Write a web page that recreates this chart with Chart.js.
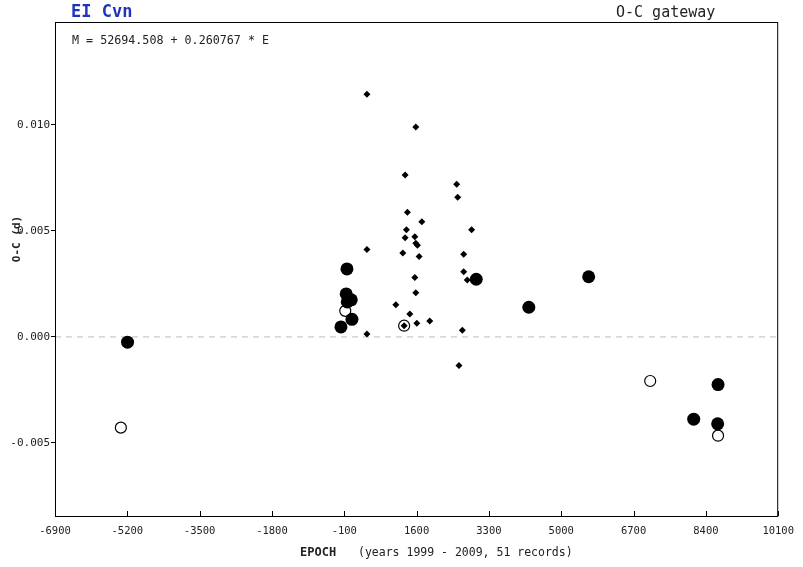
<!DOCTYPE html>
<html>
<head>
<meta charset="utf-8">
<script src="https://cdn.jsdelivr.net/npm/chart.js@4.4.1/dist/chart.umd.min.js"></script>
<style>
    html, body { margin: 0; padding: 0; background: #fff; }
    #wrap { width: 803px; height: 567px; }
</style>
</head>
<body>
<div id="wrap"><canvas id="ocChart" width="803" height="567"></canvas></div>
<script>
// tick labels
const xTicks = [-6900, -5200, -3500, -1800, -100, 1600, 3300, 5000, 6700, 8400, 10100];
const yTicks = [-0.005, 0.000, 0.005, 0.010];

// filled circles
const fullEpoch = [-5195, -178, -55, -30, -37, 64, 80, 3002, 4238, 5645, 8114, 8686, 8677];
const fullOC = [-0.00025, 0.00047, 0.00203, 0.00165, 0.00321, 0.00175, 0.00083, 0.00272, 0.00140, 0.00284, -0.00388, -0.00225, -0.00410];

// open circles
const openEpoch = [-5352, -77, 1307, 7091, 8686];
const openOC = [-0.00428, 0.00123, 0.00053, -0.00208, -0.00466];

// small diamonds
const visEpoch = [432, 1581, 1330, 2543, 2566, 1384, 1722, 2894, 1361, 1330, 1558, 1581, 1619, 432, 1276,
    1659, 2707, 1558, 2707, 2791, 1581, 1112, 1440, 1605, 1909, 1307, 2674, 432, 2596];
const visOC = [0.01145, 0.00991, 0.00764, 0.00720, 0.00659, 0.00588, 0.00544, 0.00506, 0.00506, 0.00468, 0.00473,
    0.00442, 0.00433, 0.00412, 0.00396, 0.00379, 0.00390, 0.00280, 0.00307, 0.00269, 0.00208, 0.00152, 0.00108,
    0.00065, 0.00075, 0.00053, 0.00032, 0.00014, -0.00135];

const toPoints = (xs, ys) => xs.map((x, i) => ({ x: x, y: ys[i] }));
const mono = '"DejaVu Sans Mono", monospace';

// texts, box and inner x tick marks
const decorations = {
    id: 'decorations',
    afterDraw(chart) {
        const ctx = chart.ctx;
        const area = chart.chartArea;
        const xs = chart.scales.x;
        ctx.save();

        ctx.strokeStyle = '#000';
        ctx.lineWidth = 1;
        ctx.strokeRect(area.left + 0.5, area.top + 0.5, area.right - area.left - 1, area.bottom - area.top);

        xTicks.forEach(v => {
            const px = Math.round(xs.getPixelForValue(v)) + 0.5;
            ctx.beginPath();
            ctx.moveTo(px, area.bottom);
            ctx.lineTo(px, area.bottom - 5);
            ctx.stroke();
        });

        ctx.textBaseline = 'alphabetic';
        ctx.textAlign = 'left';
        ctx.fillStyle = '#2233bb';
        ctx.font = 'bold 17px ' + mono;
        ctx.fillText('EI Cvn', 71, 17);

        ctx.fillStyle = '#222';
        ctx.font = '15px ' + mono;
        ctx.fillText('O-C gateway', 616, 17);

        ctx.font = '11.7px ' + mono;
        ctx.fillText('M = 52694.508 + 0.260767 * E', 72, 44);

        ctx.font = 'bold 12px ' + mono;
        ctx.fillText('EPOCH', 300, 556);
        ctx.font = '11.5px ' + mono;
        ctx.fillText('(years 1999 - 2009, 51 records)', 358, 556);

        ctx.translate(20, 239);
        ctx.rotate(-Math.PI / 2);
        ctx.textAlign = 'center';
        ctx.font = 'bold 11px ' + mono;
        ctx.fillText('O-C (d)', 0, 0);
        ctx.restore();
    }
};

document.addEventListener('DOMContentLoaded', function () {
    const ctx = document.getElementById('ocChart').getContext('2d');
    new Chart(ctx, {
        type: 'scatter',
        data: {
            datasets: [{
                label: 'visual',
                data: toPoints(visEpoch, visOC),
                pointStyle: 'rectRot',
                pointRadius: 3.5,
                backgroundColor: '#000',
                borderColor: '#000',
                borderWidth: 0,
                order: 0
            }, {
                label: 'full',
                data: toPoints(fullEpoch, fullOC),
                pointStyle: 'circle',
                pointRadius: 6.5,
                backgroundColor: '#000',
                borderColor: '#000',
                borderWidth: 0,
                order: 1
            }, {
                label: 'open',
                data: toPoints(openEpoch, openOC),
                pointStyle: 'circle',
                pointRadius: 5.5,
                backgroundColor: '#fff',
                borderColor: '#000',
                borderWidth: 1.2,
                order: 2
            }, {
                type: 'line',
                label: 'zero',
                data: [{ x: xTicks[0], y: 0 }, { x: xTicks[xTicks.length - 1], y: 0 }],
                borderColor: '#bbb',
                borderWidth: 1,
                borderDash: [6, 5],
                pointRadius: 0,
                order: 3
            }]
        },
        options: {
            responsive: false,
            animation: false,
            events: [],
            devicePixelRatio: 1,
            layout: {
                autoPadding: false,
                padding: { top: 22, right: 23, left: 0, bottom: 0 }
            },
            plugins: {
                legend: { display: false },
                tooltip: { enabled: false }
            },
            scales: {
                x: {
                    type: 'linear',
                    min: xTicks[0],
                    max: xTicks[xTicks.length - 1],
                    afterBuildTicks: scale => { scale.ticks = xTicks.map(v => ({ value: v })); },
                    afterFit: scale => { scale.height = 51; },
                    grid: { display: false, drawTicks: false },
                    border: { display: false },
                    ticks: {
                        autoSkip: false,
                        maxRotation: 0,
                        padding: 9,
                        color: '#222',
                        font: { family: 'DejaVu Sans Mono', size: 10.5 },
                        callback: v => String(v)
                    }
                },
                y: {
                    type: 'linear',
                    min: -0.00845,
                    max: 0.01486,
                    afterBuildTicks: scale => { scale.ticks = yTicks.map(v => ({ value: v })); },
                    afterFit: scale => { scale.width = 55; },
                    grid: { drawOnChartArea: false, drawTicks: true, tickLength: 4, color: '#000' },
                    border: { display: false },
                    ticks: {
                        padding: 1,
                        color: '#222',
                        font: { family: 'DejaVu Sans Mono', size: 11 },
                        callback: v => v.toFixed(3)
                    }
                }
            }
        },
        plugins: [decorations]
    });
});
</script>
</body>
</html>
